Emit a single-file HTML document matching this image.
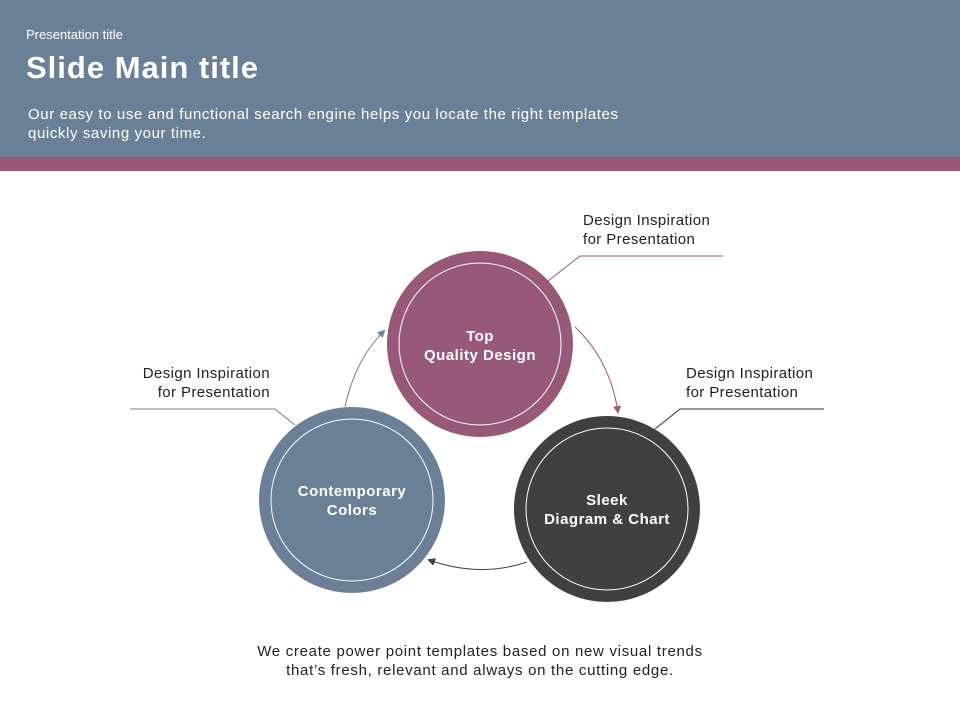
<!DOCTYPE html>
<html><head><meta charset="utf-8"><style>
body{margin:0;width:960px;height:720px;overflow:hidden;background:#fff;font-family:"Liberation Sans","DejaVu Sans",sans-serif;}
.hdr{position:absolute;left:0;top:0;width:960px;height:157px;background:#6b8096;}
.str{position:absolute;left:0;top:157px;width:960px;height:14px;background:#985878;}
.t{position:absolute;color:#fff;}
.c{position:absolute;color:#222;font-size:15px;line-height:19px;letter-spacing:0.4px;}
</style></head><body>
<div class="hdr"></div><div class="str"></div>
<div class="t" style="left:26px;top:27px;font-size:13px;">Presentation title</div>
<div class="t" style="left:26px;top:50px;font-size:31px;font-weight:bold;letter-spacing:1px;">Slide Main title</div>
<div class="t" style="left:28px;top:105px;font-size:15px;line-height:19px;letter-spacing:0.6px;">Our easy to use and functional search engine helps you locate the right templates<br>quickly saving your time.</div>
<svg width="960" height="720" style="position:absolute;left:0;top:0">
<defs>
<marker id="ab" markerWidth="8" markerHeight="8" refX="6" refY="4" orient="auto"><path d="M0,0L8,4L0,8z" fill="#6b8096"/></marker>
<marker id="ap" markerWidth="8" markerHeight="8" refX="6" refY="4" orient="auto"><path d="M0,0L8,4L0,8z" fill="#985878"/></marker>
<marker id="ad" markerWidth="8" markerHeight="8" refX="6" refY="4" orient="auto"><path d="M0,0L8,4L0,8z" fill="#404040"/></marker>
</defs>
<polyline points="548,281 580,256 723,256" fill="none" stroke="#985878" stroke-width="1"/>
<polyline points="655,429 680,409 824,409" fill="none" stroke="#333" stroke-width="1"/>
<polyline points="295,425 275,409 130,409" fill="none" stroke="#6b8096" stroke-width="1"/>
<path d="M345,407 Q355,360 384,331" fill="none" stroke="#6b8096" stroke-width="1" marker-end="url(#ab)"/>
<path d="M575,327 Q610,360 618,412" fill="none" stroke="#985878" stroke-width="1" marker-end="url(#ap)"/>
<path d="M527,562 Q480,578 429,560" fill="none" stroke="#404040" stroke-width="1" marker-end="url(#ad)"/>
<circle cx="480" cy="344" r="93" fill="#985878"/><circle cx="480" cy="344" r="81" fill="none" stroke="#fff" stroke-width="1"/>
<circle cx="352" cy="500" r="93" fill="#6b8096"/><circle cx="352" cy="500" r="81" fill="none" stroke="#fff" stroke-width="1"/>
<circle cx="607" cy="509" r="93" fill="#404040"/><circle cx="607" cy="509" r="81" fill="none" stroke="#fff" stroke-width="1"/>
<g font-family="Liberation Sans, sans-serif" font-size="15" font-weight="bold" fill="#fff" text-anchor="middle" letter-spacing="0.5">
<text x="480" y="341">Top</text><text x="480" y="360">Quality Design</text>
<text x="352" y="496">Contemporary</text><text x="352" y="515">Colors</text>
<text x="607" y="505">Sleek</text><text x="607" y="524">Diagram &amp; Chart</text>
</g>
</svg>
<div class="c" style="left:583px;top:211px;">Design Inspiration<br>for Presentation</div>
<div class="c" style="left:686px;top:364px;">Design Inspiration<br>for Presentation</div>
<div class="c" style="left:100px;top:364px;width:170px;text-align:right;">Design Inspiration<br>for Presentation</div>
<div class="c" style="left:130px;top:642px;width:700px;text-align:center;letter-spacing:0.7px;">We create power point templates based on new visual trends<br>that’s fresh, relevant and always on the cutting edge.</div>
</body></html>
